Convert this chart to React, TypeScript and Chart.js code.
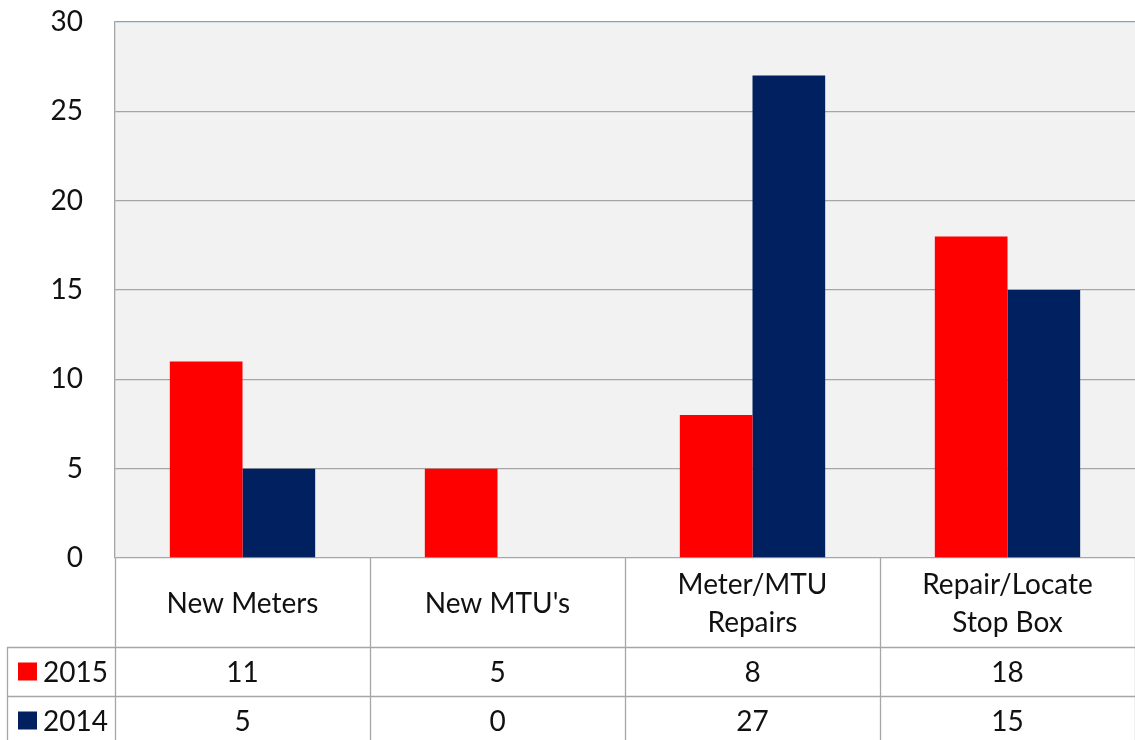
import React, { useEffect, useRef } from 'react';
import { Chart, registerables } from 'chart.js';

Chart.register(...registerables);

const categories = ['New Meters', "New MTU's", 'Meter/MTU Repairs', 'Repair/Locate Stop Box'];
const categoryLines = [['New Meters'], ["New MTU's"], ['Meter/MTU', 'Repairs'], ['Repair/Locate', 'Stop Box']];
const seriesNames = ['2015', '2014'];
const values2015 = [11, 5, 8, 18];
const values2014 = [5, 0, 27, 15];
const seriesColors = ['#ff0000', '#002060'];
const yMin = 0;
const yMax = 30;
const yStep = 5;

const FONT = 'Lato, "Noto Sans", sans-serif';
const FONT_SIZE = 28;
const LINE_COLOR = '#a6a6a6';
const TEXT_COLOR = '#111111';

const tablePlugin = {
  id: 'dataTable',
  beforeDraw(chart: any) {
    const { ctx, chartArea } = chart;
    ctx.save();
    ctx.fillStyle = '#ffffff';
    ctx.fillRect(0, 0, chart.width, chart.height);
    ctx.fillStyle = '#f2f2f2';
    ctx.fillRect(chartArea.left, chartArea.top, chartArea.right - chartArea.left, chartArea.bottom - chartArea.top);
    ctx.restore();
  },
  afterDraw(chart: any) {
    const { ctx, chartArea } = chart;
    const xScale = chart.scales.x;
    const n = categories.length;
    const left = chartArea.left;
    const right = chartArea.right;
    const catW = (right - left) / n;
    const headerTop = chartArea.bottom;
    const headerBottom = headerTop + 89;
    const rowH = 49;
    const tableLeft = 7;
    const allValues = [values2015, values2014];

    ctx.save();
    ctx.strokeStyle = LINE_COLOR;
    ctx.lineWidth = 1.3;
    for (let i = 0; i <= n; i++) {
      const x = Math.round(left + i * catW) + 0.5;
      ctx.beginPath();
      ctx.moveTo(x, headerTop);
      ctx.lineTo(x, chart.height + 5);
      ctx.stroke();
    }
    ctx.beginPath();
    ctx.moveTo(tableLeft + 0.5, headerBottom);
    ctx.lineTo(tableLeft + 0.5, chart.height + 5);
    ctx.stroke();
    for (let r = 0; r <= seriesNames.length; r++) {
      const y = Math.round(headerBottom + r * rowH) + 0.5;
      ctx.beginPath();
      ctx.moveTo(tableLeft, y);
      ctx.lineTo(chart.width, y);
      ctx.stroke();
    }

    ctx.fillStyle = TEXT_COLOR;
    ctx.font = `${FONT_SIZE}px ${FONT}`;
    ctx.textAlign = 'center';
    ctx.textBaseline = 'middle';
    for (let i = 0; i < n; i++) {
      const cx = xScale.getPixelForValue(i);
      const lines = categoryLines[i];
      const lh = 38;
      const midY = (headerTop + headerBottom) / 2 + 1;
      const startY = midY - ((lines.length - 1) * lh) / 2;
      lines.forEach((ln, j) => ctx.fillText(ln, cx, startY + j * lh));
    }
    seriesNames.forEach((name, r) => {
      const cy = headerBottom + r * rowH + rowH / 2;
      ctx.fillStyle = seriesColors[r];
      ctx.fillRect(18, cy - 9, 19, 18);
      ctx.fillStyle = TEXT_COLOR;
      ctx.textAlign = 'left';
      ctx.fillText(name, 43, cy + 1);
      ctx.textAlign = 'center';
      allValues[r].forEach((v, i) => {
        ctx.fillText(String(v), xScale.getPixelForValue(i), cy + 1);
      });
    });
    ctx.restore();
  },
};

export default function App() {
  const canvasRef = useRef<HTMLCanvasElement>(null);

  useEffect(() => {
    const canvas = canvasRef.current;
    if (!canvas) return;
    const chart = new Chart(canvas, {
      type: 'bar',
      data: {
        labels: categories,
        datasets: [
          {
            label: seriesNames[0],
            data: values2015,
            backgroundColor: seriesColors[0],
            borderWidth: 0,
            categoryPercentage: 0.57,
            barPercentage: 1,
          },
          {
            label: seriesNames[1],
            data: values2014,
            backgroundColor: seriesColors[1],
            borderWidth: 0,
            categoryPercentage: 0.57,
            barPercentage: 1,
          },
        ],
      },
      options: {
        responsive: false,
        animation: false,
        devicePixelRatio: 1,
        layout: { padding: { top: 22, bottom: 182, left: 0, right: 0 } },
        plugins: {
          legend: { display: false },
          tooltip: { enabled: false },
          title: { display: false },
        },
        scales: {
          x: {
            display: false,
            offset: true,
            grid: { display: false },
          },
          y: {
            min: yMin,
            max: yMax,
            afterFit: (scale: any) => {
              scale.width = 115;
            },
            ticks: {
              stepSize: yStep,
              padding: 2,
              color: TEXT_COLOR,
              font: { family: FONT, size: FONT_SIZE },
            },
            grid: {
              drawTicks: true,
              tickLength: 30,
              tickColor: 'rgba(0,0,0,0)',
              lineWidth: 1.3,
              color: (ctx: any) => (ctx.tick && ctx.tick.value === yMax ? '#7aa3d6' : LINE_COLOR),
            },
            border: { display: true, color: LINE_COLOR, width: 1.3 },
          },
        },
      },
      plugins: [tablePlugin],
    });
    return () => chart.destroy();
  }, []);

  return (
    <div style={{ position: 'fixed', left: 0, top: 0, width: 1135, height: 740, overflow: 'hidden', background: '#fff' }}>
      <canvas ref={canvasRef} width={1135} height={740} style={{ display: 'block' }} />
    </div>
  );
}
